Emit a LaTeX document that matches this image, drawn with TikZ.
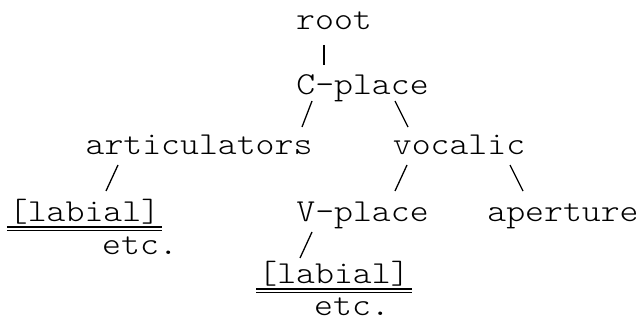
\documentclass[tikz,border=0pt]{standalone}
\usepackage{graphicx}
\newcommand\ttext[1]{\scalebox{1.125}[1]{\fontsize{32pt}{32pt}\ttfamily\fontseries{l}\selectfont #1}}
\begin{document}
\begin{tikzpicture}[x=1pt,y=-1pt,
  lbl/.style={inner sep=0pt, outer sep=0pt, anchor=base},
  conn/.style={line width=1.3pt},
  rulex/.style={line width=1.2pt}]
\useasboundingbox (0,0) rectangle (644,320);
% nodes
\node[lbl] (root) at (334,30) {\ttext{root}};
\node[lbl] (cplace) at (362.5,95) {\ttext{C-place}};
\node[lbl] (artic) at (199,155) {\ttext{articulators}};
\node[lbl] (vocalic) at (459,155) {\ttext{vocalic}};
\node[lbl] (lab1) at (84.5,221) {\ttext{[labial]}};
\node[lbl] (vplace) at (362.5,221) {\ttext{V-place}};
\node[lbl] (aperture) at (563,221) {\ttext{aperture}};
\node[lbl] (etc1) at (140,254) {\ttext{etc.}};
\node[lbl] (lab2) at (334,283) {\ttext{[labial]}};
\node[lbl] (etc2) at (352,315) {\ttext{etc.}};
% connector ends
\coordinate (ra) at (324,45);  \coordinate (rb) at (324,65);
\coordinate (ca) at (312,101); \coordinate (cb) at (302,127);
\coordinate (cc) at (395,101); \coordinate (cd) at (408,127);
\coordinate (aa) at (118,165); \coordinate (ab) at (106,191);
\coordinate (va) at (407,165); \coordinate (vb) at (395,191);
\coordinate (vc) at (510,165); \coordinate (vd) at (523,191);
\coordinate (pa) at (312,232); \coordinate (pb) at (300,258);
\draw[conn] (ra) -- (rb);
\draw[conn] (ca) -- (cb);
\draw[conn] (cc) -- (cd);
\draw[conn] (aa) -- (ab);
\draw[conn] (va) -- (vb);
\draw[conn] (vc) -- (vd);
\draw[conn] (pa) -- (pb);
% double underlines
\draw[rulex] ([shift={(-2,6)}]lab1.base west) -- ([shift={(2,6)}]lab1.base east);
\draw[rulex] ([shift={(-2,9.5)}]lab1.base west) -- ([shift={(2,9.5)}]lab1.base east);
\draw[rulex] ([shift={(-2,6)}]lab2.base west) -- ([shift={(2,6)}]lab2.base east);
\draw[rulex] ([shift={(-2,9.5)}]lab2.base west) -- ([shift={(2,9.5)}]lab2.base east);
\end{tikzpicture}
\end{document}
